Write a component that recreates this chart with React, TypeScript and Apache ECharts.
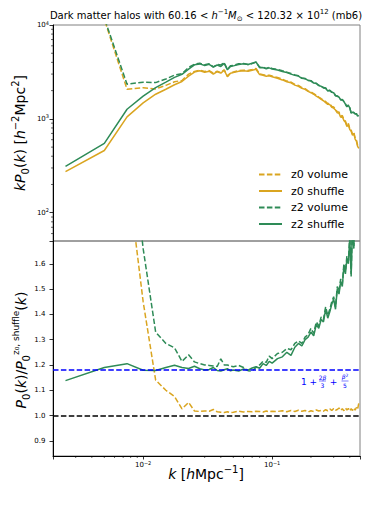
import React, { useEffect, useRef } from 'react';
import * as echarts from 'echarts';

// ---- data ----
const K = [
  0.0025, 0.005, 0.0075, 0.01, 0.0125, 0.015, 0.0175, 0.02, 0.0225, 0.025,
  0.0275, 0.03, 0.0325, 0.035, 0.0375, 0.04, 0.0425, 0.045, 0.0475, 0.05,
  0.055, 0.06, 0.065, 0.07, 0.075, 0.08, 0.085, 0.09, 0.095, 0.1,
  0.11, 0.12, 0.13, 0.14, 0.15, 0.16, 0.17, 0.18, 0.19, 0.2,
  0.21, 0.22, 0.23, 0.24, 0.25, 0.26, 0.27, 0.28, 0.29, 0.3,
  0.31, 0.32, 0.33, 0.34, 0.35, 0.36, 0.37, 0.38, 0.39, 0.4,
  0.41, 0.42, 0.43, 0.44, 0.45, 0.46, 0.47,
];

// kP0(k) of z0 shuffle (top panel, orange solid)
const Z0_SHUFFLE = [
  274, 460, 1050, 1480, 1830, 2070, 2310, 2500, 2850, 3150,
  3250, 3140, 3220, 2990, 3180, 3070, 3300, 2810, 3070, 3110,
  3220, 3260, 3220, 3300, 3380, 2960, 2920, 2850, 2880, 2810,
  2710, 2600, 2490, 2420, 2290, 2220, 2120, 2060, 1960, 1900,
  1830, 1750, 1680, 1610, 1560, 1490, 1430, 1420, 1330, 1300,
  1240, 1160, 1150, 1040, 1060, 960, 920, 830, 870, 770,
  740, 670, 700, 610, 580, 510, 485,
];

// P0(k) / P0^{z0,shuffle}(k)  (bottom panel)
const RATIO_Z0_VOLUME = [
  330, 25, 1.97, 1.45, 1.14, 1.1, 1.075, 1.026, 1.052, 1.018,
  1.016, 1.018, 1.017, 1.024, 1.015, 1.013, 1.012, 1.015, 1.011, 1.013,
  1.017, 1.014, 1.016, 1.015, 1.017, 1.016, 1.014, 1.018, 1.015, 1.017,
  1.016, 1.019, 1.015, 1.02, 1.016, 1.021, 1.017, 1.02, 1.014, 1.019,
  1.016, 1.022, 1.018, 1.02, 1.017, 1.023, 1.019, 1.026, 1.02, 1.028,
  1.021, 1.024, 1.03, 1.02, 1.027, 1.019, 1.03, 1.022, 1.028, 1.018,
  1.027, 1.02, 1.03, 1.021, 1.032, 1.024, 1.05,
];

const RATIO_Z2_VOLUME = [
  340, 25.7, 2.23, 1.66, 1.33, 1.285, 1.268, 1.214, 1.24, 1.212,
  1.205, 1.2, 1.198, 1.196, 1.194, 1.224, 1.2, 1.2, 1.196, 1.193,
  1.198, 1.19, 1.177, 1.176, 1.19, 1.2, 1.215, 1.21, 1.235, 1.225,
  1.245, 1.25, 1.265, 1.26, 1.285, 1.295, 1.285, 1.31, 1.32, 1.345,
  1.325, 1.37, 1.355, 1.39, 1.38, 1.43, 1.395, 1.42, 1.45, 1.47,
  1.43, 1.51, 1.49, 1.54, 1.52, 1.6, 1.57, 1.63, 1.61, 1.71,
  1.56, 1.77, 1.67, 1.86, 1.96, 2.12, 2.27,
];

const RATIO_Z2_SHUFFLE = [
  1.138, 1.19, 1.205, 1.179, 1.178, 1.19, 1.199, 1.19, 1.186, 1.195,
  1.185, 1.18, 1.182, 1.19, 1.178, 1.176, 1.181, 1.185, 1.177, 1.18,
  1.176, 1.184, 1.179, 1.188, 1.193, 1.187, 1.205, 1.198, 1.214, 1.207,
  1.225, 1.232, 1.25, 1.238, 1.27, 1.285, 1.275, 1.3, 1.31, 1.33,
  1.315, 1.36, 1.345, 1.38, 1.37, 1.42, 1.385, 1.41, 1.44, 1.46,
  1.42, 1.5, 1.48, 1.53, 1.51, 1.59, 1.56, 1.62, 1.6, 1.7,
  1.55, 1.76, 1.66, 1.85, 1.95, 2.1, 2.25,
];

const KAISER_LEVEL = 1.18; // 1 + 2β/3 + β²/5
const UNITY_LEVEL = 1.0;

const X_MINOR = [
  0.003, 0.004, 0.005, 0.006, 0.007, 0.008, 0.009,
  0.02, 0.03, 0.04, 0.05, 0.06, 0.07, 0.08, 0.09,
  0.2, 0.3, 0.4,
];
const Y_MINOR_TOP = [
  60, 70, 80, 90,
  200, 300, 400, 500, 600, 700, 800, 900,
  2000, 3000, 4000, 5000, 6000, 7000, 8000, 9000,
];
const Y_TICKS_BOTTOM = [0.9, 1.0, 1.1, 1.2, 1.3, 1.4, 1.5, 1.6];

const LEGEND_NAMES = ['z0 volume', 'z0 shuffle', 'z2 volume', 'z2 shuffle'];

// ---- styling ----
const X_MIN = 0.002;
const X_MAX = 0.48;
const Y1_MIN = 50;
const Y1_MAX = 10000;
const Y2_MIN = 0.84;
const Y2_MAX = 1.69;

const ORANGE = '#DAA520';
const GREEN = '#2E8B57';
const BLUE = '#0000FF';
const FONT = 'DejaVu Sans';
const DASH = [5.5, 2.4];

const powLabel = (v: number) => {
  const e = Math.log10(v);
  const r = Math.round(e);
  if (Math.abs(e - r) > 1e-6) return '';
  return '10{sup|' + (r < 0 ? '\u2212' + -r : String(r)) + '}';
};

export default function App() {
  const ref = useRef<HTMLDivElement>(null);

  useEffect(() => {
    if (!ref.current) return;
    const chart = echarts.init(ref.current, undefined, { renderer: 'svg' });

    const lineSeries = (
      name: string,
      vals: number[],
      color: string,
      dashed: boolean,
      grid: number
    ) => ({
      type: 'line',
      name,
      xAxisIndex: grid,
      yAxisIndex: grid,
      data: K.map((k, i) => [k, vals[i]]),
      showSymbol: false,
      symbol: 'none',
      silent: true,
      emphasis: { disabled: true },
      lineStyle: { color, width: 1.5, type: dashed ? DASH : 'solid' },
      itemStyle: { color },
    });

    const z0Volume = Z0_SHUFFLE.map((v, i) => v * RATIO_Z0_VOLUME[i]);
    const z2Volume = Z0_SHUFFLE.map((v, i) => v * RATIO_Z2_VOLUME[i]);
    const z2Shuffle = Z0_SHUFFLE.map((v, i) => v * RATIO_Z2_SHUFFLE[i]);

    const supRich = {
      sup: { fontSize: 5, lineHeight: 5, verticalAlign: 'top', fontFamily: FONT, color: '#000' },
    };

    const option: any = {
      animation: false,
      textStyle: { fontFamily: FONT },
      grid: [
        { left: 53, top: 25, width: 307, height: 216, show: true, borderColor: '#808080', borderWidth: 1 },
        { left: 53, top: 241, width: 307, height: 215, show: true, borderColor: '#808080', borderWidth: 1 },
      ],
      xAxis: [
        {
          type: 'log', gridIndex: 0, min: X_MIN, max: X_MAX,
          axisLine: { show: false }, axisTick: { show: false }, axisLabel: { show: false },
          splitLine: { show: false },
        },
        {
          type: 'log', gridIndex: 1, min: X_MIN, max: X_MAX,
          axisLine: { show: true, onZero: false, lineStyle: { color: '#000', width: 1 } },
          axisTick: { show: true, length: 3.5, lineStyle: { color: '#000', width: 0.8 } },
          axisLabel: {
            show: true, margin: 4, fontSize: 7, lineHeight: 10, color: '#000', fontFamily: FONT,
            formatter: powLabel, rich: supRich,
          },
          splitLine: { show: false },
        },
      ],
      yAxis: [
        {
          type: 'log', gridIndex: 0, min: Y1_MIN, max: Y1_MAX,
          axisLine: { show: true, onZero: false, lineStyle: { color: '#000', width: 1 } },
          axisTick: { show: true, length: 3.5, lineStyle: { color: '#000', width: 0.8 } },
          axisLabel: {
            show: true, margin: 4, fontSize: 7, lineHeight: 10, color: '#000', fontFamily: FONT,
            formatter: powLabel, rich: supRich,
          },
          splitLine: { show: false },
        },
        {
          type: 'value', gridIndex: 1, min: Y2_MIN, max: Y2_MAX,
          axisLine: { show: true, onZero: false, lineStyle: { color: '#000', width: 1 } },
          axisTick: { show: true, length: 3.5, lineStyle: { color: '#000', width: 0.8 }, customValues: Y_TICKS_BOTTOM },
          axisLabel: {
            show: true, margin: 7.5, fontSize: 7, color: '#000', fontFamily: FONT,
            customValues: Y_TICKS_BOTTOM,
            formatter: (v: number) => v.toFixed(1),
          },
          splitLine: { show: false },
        },
      ],
      legend: {
        data: LEGEND_NAMES,
        orient: 'vertical',
        left: 258,
        top: 169,
        padding: 0,
        itemWidth: 23,
        itemHeight: 11,
        itemGap: 5.5,
        selectedMode: false,
        itemStyle: { opacity: 0, borderWidth: 0 },
        textStyle: { fontSize: 11, lineHeight: 11, color: '#000', fontFamily: FONT, padding: [0, 0, 0, 4] },
      },
      series: [
        lineSeries('z0 volume', z0Volume, ORANGE, true, 0),
        lineSeries('z0 shuffle', Z0_SHUFFLE, ORANGE, false, 0),
        lineSeries('z2 volume', z2Volume, GREEN, true, 0),
        lineSeries('z2 shuffle', z2Shuffle, GREEN, false, 0),
        lineSeries('ratio z0 volume', RATIO_Z0_VOLUME, ORANGE, true, 1),
        lineSeries('ratio z2 volume', RATIO_Z2_VOLUME, GREEN, true, 1),
        lineSeries('ratio z2 shuffle', RATIO_Z2_SHUFFLE, GREEN, false, 1),
        {
          type: 'line', name: 'reference levels', xAxisIndex: 1, yAxisIndex: 1, data: [],
          silent: true, z: 5,
          markLine: {
            silent: true, symbol: ['none', 'none'], animation: false,
            label: { show: false },
            emphasis: { disabled: true },
            data: [
              { yAxis: KAISER_LEVEL, lineStyle: { color: BLUE, width: 1.5, type: DASH } },
              { yAxis: UNITY_LEVEL, lineStyle: { color: '#000', width: 1.5, type: DASH } },
            ],
          },
        },
        {
          type: 'custom', name: 'x minor ticks', xAxisIndex: 1, yAxisIndex: 1, silent: true, clip: false, z: 10,
          data: X_MINOR.map((v) => [v, Y2_MIN]),
          renderItem: (_p: any, api: any) => {
            const p = api.coord([api.value(0), api.value(1)]);
            return {
              type: 'line',
              shape: { x1: p[0], y1: p[1], x2: p[0], y2: p[1] + 2 },
              style: { stroke: '#000', lineWidth: 0.6 },
            };
          },
        },
        {
          type: 'custom', name: 'y minor ticks', xAxisIndex: 0, yAxisIndex: 0, silent: true, clip: false, z: 10,
          data: Y_MINOR_TOP.map((v) => [X_MIN, v]),
          renderItem: (_p: any, api: any) => {
            const p = api.coord([api.value(0), api.value(1)]);
            return {
              type: 'line',
              shape: { x1: p[0] - 2, y1: p[1], x2: p[0], y2: p[1] },
              style: { stroke: '#000', lineWidth: 0.6 },
            };
          },
        },
      ],
      graphic: [
        {
          type: 'text', x: 206, y: 15, z: 100,
          style: {
            text: 'Dark matter halos with 60.16 < {i|h}{sup|\u22121}{i|M}{sub|\u2299} < 120.32 \u00d7 10{sup|12} (mb6)',
            fontSize: 10, lineHeight: 14, fontFamily: FONT, fill: '#000',
            align: 'center', verticalAlign: 'middle',
            rich: {
              i: { fontStyle: 'italic', fontSize: 10, lineHeight: 14, fontFamily: FONT },
              sup: { fontSize: 7, lineHeight: 8, verticalAlign: 'top', fontFamily: FONT },
              sub: { fontSize: 7, lineHeight: 8, verticalAlign: 'bottom', fontFamily: FONT },
            },
          },
        },
        {
          type: 'text', x: 20, y: 133, rotation: Math.PI / 2, z: 100,
          style: {
            text: '{i|kP}{sub|0}({i|k}) [{i|h}{sup|\u22122}Mpc{sup|2}]',
            fontSize: 14, lineHeight: 20, fontFamily: FONT, fill: '#000',
            align: 'center', verticalAlign: 'middle',
            rich: {
              i: { fontStyle: 'italic', fontSize: 14, lineHeight: 20, fontFamily: FONT },
              sup: { fontSize: 10, lineHeight: 10, verticalAlign: 'top', fontFamily: FONT },
              sub: { fontSize: 10, lineHeight: 10, verticalAlign: 'bottom', fontFamily: FONT },
            },
          },
        },
        {
          type: 'text', x: 21, y: 350, rotation: Math.PI / 2, z: 100,
          style: {
            text: '{i|P}{sub|0}({i|k})/{i|P}{sub|0}{sup|z\u2080, shuffle}({i|k})',
            fontSize: 14, lineHeight: 20, fontFamily: FONT, fill: '#000',
            align: 'center', verticalAlign: 'middle',
            rich: {
              i: { fontStyle: 'italic', fontSize: 14, lineHeight: 20, fontFamily: FONT },
              sup: { fontSize: 9, lineHeight: 9, verticalAlign: 'top', fontFamily: FONT },
              sub: { fontSize: 10, lineHeight: 10, verticalAlign: 'bottom', fontFamily: FONT },
            },
          },
        },
        {
          type: 'text', x: 206, y: 474, z: 100,
          style: {
            text: '{i|k} [{i|h}Mpc{sup|\u22121}]',
            fontSize: 14, lineHeight: 20, fontFamily: FONT, fill: '#000',
            align: 'center', verticalAlign: 'middle',
            rich: {
              i: { fontStyle: 'italic', fontSize: 14, lineHeight: 20, fontFamily: FONT },
              sup: { fontSize: 10, lineHeight: 10, verticalAlign: 'top', fontFamily: FONT },
            },
          },
        },
        // Kaiser-factor annotation: 1 + 2β/3 + β²/5
        {
          type: 'text', x: 309, y: 382, z: 100,
          style: { text: '1 +', fontSize: 9, fontFamily: FONT, fill: BLUE, align: 'center', verticalAlign: 'middle' },
        },
        {
          type: 'text', x: 322.5, y: 377, z: 100,
          style: {
            text: '2{i|\u03b2}', fontSize: 6, fontFamily: FONT, fill: BLUE, align: 'center', verticalAlign: 'middle',
            rich: { i: { fontStyle: 'italic', fontSize: 6, fontFamily: FONT, fill: BLUE } },
          },
        },
        {
          type: 'line', z: 100, shape: { x1: 319, y1: 381, x2: 326, y2: 381 },
          style: { stroke: BLUE, lineWidth: 0.5 },
        },
        {
          type: 'text', x: 322.5, y: 385.5, z: 100,
          style: { text: '3', fontSize: 6, fontFamily: FONT, fill: BLUE, align: 'center', verticalAlign: 'middle' },
        },
        {
          type: 'text', x: 333.5, y: 382, z: 100,
          style: { text: '+', fontSize: 9, fontFamily: FONT, fill: BLUE, align: 'center', verticalAlign: 'middle' },
        },
        {
          type: 'text', x: 345, y: 376.5, z: 100,
          style: {
            text: '{i|\u03b2}{sup|2}', fontSize: 6, lineHeight: 8, fontFamily: FONT, fill: BLUE, align: 'center', verticalAlign: 'middle',
            rich: {
              i: { fontStyle: 'italic', fontSize: 6, lineHeight: 8, fontFamily: FONT, fill: BLUE },
              sup: { fontSize: 4.5, lineHeight: 4.5, verticalAlign: 'top', fontFamily: FONT, fill: BLUE },
            },
          },
        },
        {
          type: 'line', z: 100, shape: { x1: 341.5, y1: 381, x2: 348.5, y2: 381 },
          style: { stroke: BLUE, lineWidth: 0.5 },
        },
        {
          type: 'text', x: 345, y: 385.5, z: 100,
          style: { text: '5', fontSize: 6, fontFamily: FONT, fill: BLUE, align: 'center', verticalAlign: 'middle' },
        },
      ],
    };

    chart.setOption(option);
    return () => chart.dispose();
  }, []);

  return (
    <div
      ref={ref}
      style={{ position: 'absolute', left: 0, top: 0, width: 379, height: 506, background: '#fff' }}
    />
  );
}
